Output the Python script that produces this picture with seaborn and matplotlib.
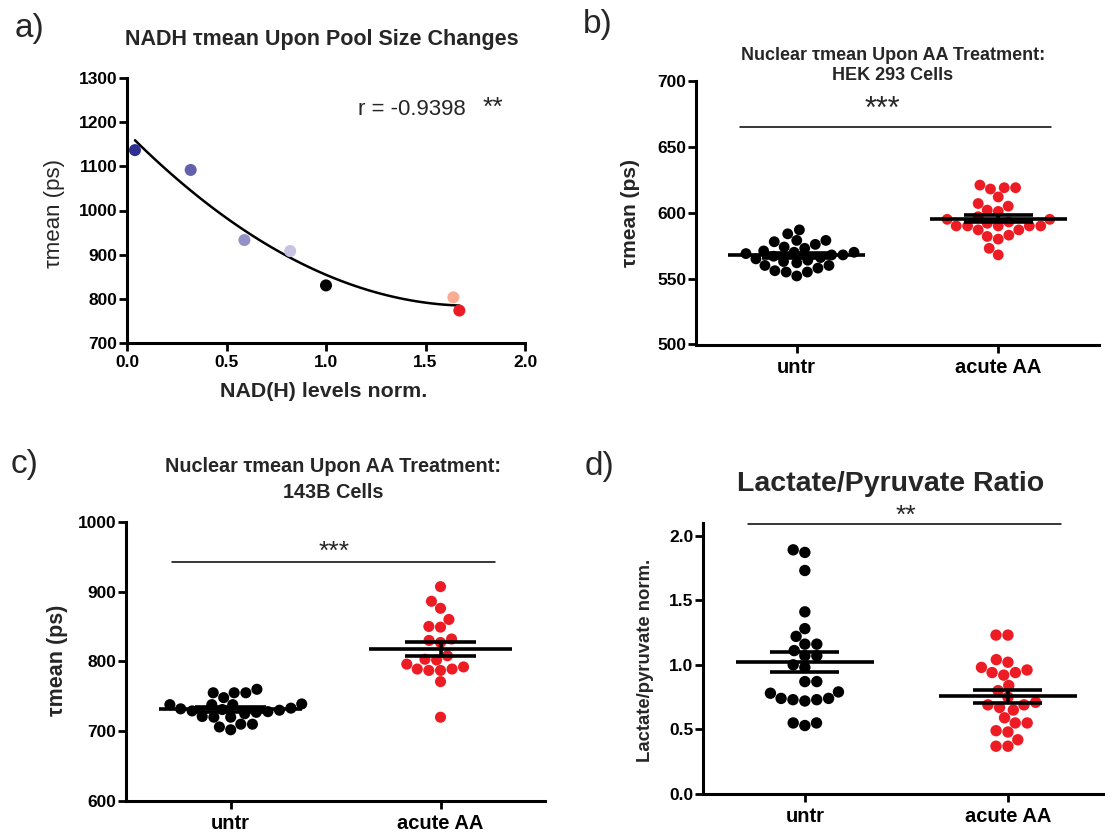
import numpy as np
import pandas as pd
import matplotlib
matplotlib.use("Agg")
import matplotlib.pyplot as plt
import seaborn as sns

sns.set_style("ticks")
plt.rcParams['font.family'] = ['Liberation Sans', 'DejaVu Sans']

# ---------------- data ----------------
a_nadh = [0.04, 0.32, 0.59, 0.82, 1.00, 1.64, 1.67]
a_tau = [1137, 1092, 933, 908, 830, 803, 773]
a_colors = ['#2E3192', '#6461AC', '#9490C8', '#C5C2E2', '#000000', '#F7AD94', '#ED1C24']

categories = ['untr', 'acute AA']
group_colors = ['#000000', '#ED1C24']

b_untr = [587, 584, 579, 579, 578, 576, 574, 573, 571, 570, 570, 569, 568, 568,
          567, 566, 565, 564, 563, 562, 560, 560, 558, 556, 555, 555, 552]
b_aa = [621, 619, 619, 618, 612, 607, 605, 602, 601, 597, 595, 595, 593, 592,
        590, 590, 590, 590, 590, 587, 587, 583, 582, 580, 573, 568]

c_untr = [760, 755, 755, 755, 748, 739, 738, 738, 738, 733, 732, 731, 730, 729,
          728, 727, 725, 721, 720, 720, 710, 710, 706, 702]
c_aa = [907, 886, 876, 860, 849, 850, 832, 830, 827, 808, 803, 802, 796, 792,
        789, 789, 787, 787, 771, 720]

d_untr = [1.89, 1.87, 1.73, 1.41, 1.28, 1.22, 1.16, 1.16, 1.11, 1.07, 1.07, 1.00,
          0.98, 0.87, 0.87, 0.79, 0.78, 0.74, 0.74, 0.73, 0.73, 0.72, 0.55, 0.55, 0.53]
d_aa = [1.23, 1.23, 1.04, 1.02, 0.98, 0.96, 0.94, 0.94, 0.92, 0.84, 0.80, 0.75,
        0.71, 0.69, 0.69, 0.67, 0.65, 0.59, 0.55, 0.55, 0.49, 0.48, 0.42, 0.37, 0.37]

W, H = 1105, 833
fig = plt.figure(figsize=(W / 100, H / 100), dpi=100)
fig.patch.set_facecolor('white')


def px_axes(left, right, top, bottom):
    return fig.add_axes([left / W, 1 - bottom / H, (right - left) / W, (bottom - top) / H])


def style(ax):
    for s in ['top', 'right']:
        ax.spines[s].set_visible(False)
    for s in ['left', 'bottom']:
        ax.spines[s].set_linewidth(2.2)
        ax.spines[s].set_color('black')
    ax.tick_params(width=2, length=5.5, labelsize=12.5, direction='out', pad=1.5, colors='black')
    for lab in ax.get_xticklabels() + ax.get_yticklabels():
        lab.set_fontweight('bold')
    ax.set_xlabel('')
    ax.set_ylabel('')
    ax.set_facecolor('white')


def ftext(x, y, s, **kw):
    fig.text(x / W, 1 - y / H, s, **kw)


# ---------------- panel a ----------------
axa = px_axes(127, 525, 78.3, 342.7)
dfa = pd.DataFrame({'nadh': a_nadh, 'tau': a_tau, 'cond': list(range(len(a_nadh)))})
sns.regplot(data=dfa, x='nadh', y='tau', order=2, ci=None, scatter=False, ax=axa,
            line_kws=dict(color='black', lw=1.8))
sns.scatterplot(data=dfa, x='nadh', y='tau', hue='cond', palette=a_colors, s=75,
                edgecolor='none', legend=False, ax=axa, zorder=3)
axa.set_xlim(0, 2)
axa.set_ylim(700, 1300)
axa.set_xticks([0, 0.5, 1.0, 1.5, 2.0])
axa.set_xticklabels(['0.0', '0.5', '1.0', '1.5', '2.0'])
axa.set_yticks(range(700, 1301, 100))
style(axa)
axa.tick_params(axis='x', pad=3)
axa.text(1.162, 1230, 'r = -0.9398', fontsize=16, ha='left', va='center')
axa.text(1.84, 1233, '**', fontsize=19, ha='center', va='center')

ftext(322, 40, 'NADH \u03c4mean Upon Pool Size Changes', fontsize=15.5, fontweight='bold',
      ha='center', va='center')
ftext(55, 213, '\u03c4mean (ps)', fontsize=16, rotation=90, ha='center', va='center')
ftext(324, 391, 'NAD(H) levels norm.', fontsize=15.4, fontweight='bold', ha='center', va='center')


# ---------------- group panels ----------------
def group_panel(ax, untr, aa, ylim, yticks, yfmt, bar_y, dot=7.8):
    df = pd.DataFrame({'group': [categories[0]] * len(untr) + [categories[1]] * len(aa),
                       'val': list(untr) + list(aa)})
    sns.swarmplot(data=df, x='group', y='val', hue='group', order=categories,
                  hue_order=categories, palette=group_colors, size=dot, linewidth=0,
                  legend=False, ax=ax, zorder=2)
    for i, vals in enumerate([untr, aa]):
        v = np.asarray(vals, dtype=float)
        m = v.mean()
        se = v.std(ddof=1) / np.sqrt(len(v))
        ax.hlines(m, i - 0.34, i + 0.34, color='black', lw=2.6, zorder=5)
        ax.hlines([m - se, m + se], i - 0.17, i + 0.17, color='black', lw=2.6, zorder=5)
        ax.vlines(i, m - se, m + se, color='black', lw=2.6, zorder=5)
    ax.set_xlim(-0.5, 1.5)
    ax.set_ylim(*ylim)
    ax.set_yticks(yticks)
    ax.set_yticklabels([yfmt.format(t) for t in yticks])
    ax.set_xticks([0, 1])
    ax.set_xticklabels(categories)
    style(ax)
    ax.tick_params(axis='x', labelsize=14.5, pad=4)
    ax.plot([-0.28, 1.26], [bar_y, bar_y], color='black', lw=1.1, clip_on=False)


# panel b
axb = px_axes(696, 1099, 81, 344.5)
group_panel(axb, b_untr, b_aa, (500, 700), [500, 550, 600, 650, 700], '{:.0f}', 665)
ftext(882, 118, '***', fontsize=22, ha='center', va='baseline')
ftext(893, 56, 'Nuclear \u03c4mean Upon AA Treatment:', fontsize=13, fontweight='bold', ha='center', va='center')
ftext(893, 76, 'HEK 293 Cells', fontsize=13, fontweight='bold', ha='center', va='center')
ftext(630, 213, '\u03c4mean (ps)', fontsize=15, fontweight='bold', rotation=90, ha='center', va='center')

# panel c
axc = px_axes(125.8, 545.4, 521.7, 801)
group_panel(axc, c_untr, c_aa, (600, 1000), [600, 700, 800, 900, 1000], '{:.0f}', 942, dot=8.0)
ftext(334, 559, '***', fontsize=19, ha='center', va='baseline')
ftext(333, 466, 'Nuclear \u03c4mean Upon AA Treatment:', fontsize=14.3, fontweight='bold', ha='center', va='center')
ftext(333, 493, '143B Cells', fontsize=14.3, fontweight='bold', ha='center', va='center')
ftext(57, 660, '\u03c4mean (ps)', fontsize=15.5, fontweight='bold', rotation=90, ha='center', va='center')

# panel d
axd = px_axes(703.3, 1109.5, 522.7, 794)
group_panel(axd, d_untr, d_aa, (0, 2.1), [0.0, 0.5, 1.0, 1.5, 2.0], '{:.1f}', 2.09, dot=8.2)
ftext(906, 523, '**', fontsize=19, ha='center', va='baseline')
ftext(891, 484, 'Lactate/Pyruvate Ratio', fontsize=20.5, fontweight='bold', ha='center', va='center')
ftext(645, 660, 'Lactate/pyruvate norm.', fontsize=13.3, fontweight='bold', rotation=90, ha='center', va='center')

# panel letters
ftext(30, 28, 'a)', fontsize=24, ha='center', va='center')
ftext(598, 24, 'b)', fontsize=24, ha='center', va='center')
ftext(25, 464, 'c)', fontsize=24, ha='center', va='center')
ftext(600, 466, 'd)', fontsize=24, ha='center', va='center')

fig.savefig('out.png', dpi=100, facecolor='white')
